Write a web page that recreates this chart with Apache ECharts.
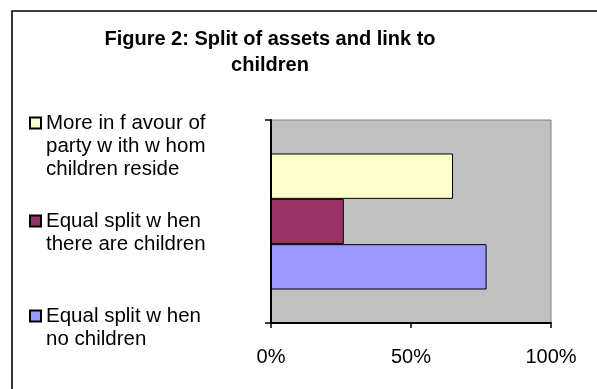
<!DOCTYPE html>
<html>
<head>
<meta charset="utf-8">
<script src="https://cdn.jsdelivr.net/npm/echarts@6/dist/echarts.min.js"></script>
<style>
  html, body { margin: 0; padding: 0; background: #ffffff; }
  #chart { width: 597px; height: 389px; }
</style>
</head>
<body>
<div id="chart"></div>
<script>
// Share of respondents (%) per option, top bar first
var categories = [''];
var seriesNames = [
  'More in f avour of\nparty w ith w hom\nchildren reside',
  'Equal split w hen\nthere are children',
  'Equal split w hen\nno children'
];
var seriesValues = [65, 26, 77];
var seriesColors = ['#FFFFCC', '#993366', '#9999FF'];
var xTicks = { min: 0, max: 100, interval: 50 };

var FONT = 'Liberation Sans, Arial, sans-serif';
var LH = 23;

var chart = echarts.init(document.getElementById('chart'), null, { renderer: 'canvas' });

// One legend block per entry; blank lines above the text keep the
// swatch level with the first line of a wrapped label.
function legendFor(name, firstLineY) {
  var lines = name.split('\n').length;
  var total = 2 * lines - 1;
  return {
    data: [name],
    orient: 'vertical',
    left: 29,
    top: firstLineY - (total / 2) * LH,
    padding: 0,
    itemWidth: 11,
    itemHeight: 11,
    icon: 'rect',
    selectedMode: false,
    formatter: function (n) {
      return new Array(lines).join('\n') + n;
    },
    textStyle: {
      fontFamily: FONT,
      fontSize: 20.5,
      color: '#000',
      lineHeight: LH
    }
  };
}

var series = seriesNames.map(function (n, i) {
  return {
    name: n,
    type: 'bar',
    data: [seriesValues[i]],
    barGap: '0%',
    barCategoryGap: '33%',
    itemStyle: { color: seriesColors[i], borderColor: '#000', borderWidth: 1 },
    silent: true
  };
});

chart.setOption({
  animation: false,
  backgroundColor: '#ffffff',
  title: {
    text: 'Figure 2: Split of assets and link to\nchildren',
    left: 270,
    top: 26,
    textAlign: 'center',
    padding: 0,
    textStyle: {
      fontFamily: FONT,
      fontSize: 20,
      fontWeight: 'bold',
      color: '#000',
      lineHeight: 26
    }
  },
  legend: [
    legendFor(seriesNames[0], 123),
    legendFor(seriesNames[1], 221),
    legendFor(seriesNames[2], 316)
  ],
  graphic: [{
    type: 'rect',
    shape: { x: 12, y: 11, width: 700, height: 500 },
    style: { fill: 'none', stroke: '#000', lineWidth: 1.6 },
    silent: true,
    z: 100
  }],
  grid: {
    left: 271,
    top: 120,
    right: 597 - 551,
    bottom: 389 - 323,
    show: true,
    backgroundColor: '#C0C0C0',
    borderColor: '#808080',
    borderWidth: 1
  },
  xAxis: {
    type: 'value',
    min: xTicks.min,
    max: xTicks.max,
    interval: xTicks.interval,
    axisLine: { show: true, lineStyle: { color: '#000', width: 2 } },
    axisTick: { show: true, inside: false, length: 5, lineStyle: { color: '#000', width: 1.5 } },
    splitLine: { show: false },
    axisLabel: {
      formatter: '{value}%',
      margin: 24,
      fontFamily: FONT,
      fontSize: 20,
      color: '#000'
    }
  },
  yAxis: {
    type: 'category',
    data: categories,
    axisLine: { show: true, lineStyle: { color: '#000', width: 2 } },
    axisTick: { show: true, inside: false, length: 6, lineStyle: { color: '#000', width: 1.5 } },
    axisLabel: { show: false },
    splitLine: { show: false }
  },
  series: series
});
</script>
</body>
</html>
